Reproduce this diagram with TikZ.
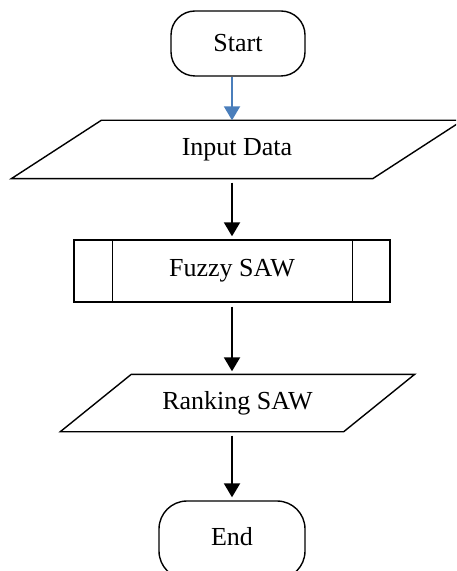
\documentclass[tikz,border=0pt]{standalone}
\usepackage{fontspec}
\setmainfont{Liberation Serif}
\usetikzlibrary{arrows.meta,calc}

\definecolor{flowblue}{HTML}{4A7EBB}

\begin{document}
\begin{tikzpicture}[x=0.5pt,y=-0.5pt]
        \tikzstyle{every node} = [font=\fontsize{13}{15}\selectfont, line width=0.7pt, inner sep=0pt]
        \tikzstyle{terminal} = [draw, rectangle, rounded corners=12pt]
        \tikzstyle{io} = [rectangle]
        \tikzstyle{proc} = [draw, rectangle, minimum width=158pt, minimum height=31pt]
        \tikzstyle{flow} = [line width=1pt, -{Triangle[width=8pt,length=7pt]}]
        \clip (0,0) rectangle (456,571);
        \node[terminal, minimum width=67pt, minimum height=32.5pt] (start) at (238,43.5) {Start};
        \node[io, minimum width=225pt, minimum height=28.5pt] (input) at (237,149.5) {Input Data};
        \node[proc] (fuzzy) at (232,271) {Fuzzy SAW};
        \node[io, minimum width=176.5pt, minimum height=28pt] (ranking) at (237.5,403) {Ranking SAW};
        \node[terminal, rounded corners=14pt, minimum width=73pt, minimum height=39pt] (end) at (232,540) {\raisebox{3.5pt}{End}};
        % slanted sides of the data boxes
        \foreach \n/\s in {input/45pt, ranking/35.5pt}
            \draw[line width=0.7pt] ([xshift=\s]\n.north west) -- (\n.north east) -- ([xshift=-\s]\n.south east) -- (\n.south west) -- cycle;
        % side bars of the process box
        \draw[line width=0.7pt] ([xshift=19.5pt]fuzzy.north west) -- ([xshift=19.5pt]fuzzy.south west);
        \draw[line width=0.7pt] ([xshift=-19pt]fuzzy.north east) -- ([xshift=-19pt]fuzzy.south east);
        \draw[flow, flowblue] (start.south -| fuzzy) -- (input.north -| fuzzy);
        \foreach \from/\to in {input/fuzzy, fuzzy/ranking, ranking/end}
            \draw[flow, shorten <=2pt, shorten >=1.5pt] (\from.south -| fuzzy) -- (\to.north -| fuzzy);
    \end{tikzpicture}
\end{document}
